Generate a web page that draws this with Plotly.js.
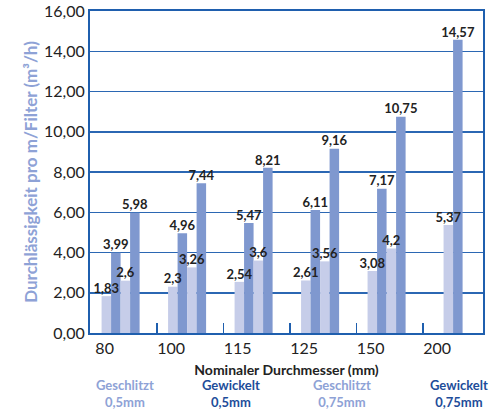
<!DOCTYPE html>
<html>
<head>
<meta charset="utf-8">
<script src="https://cdn.plot.ly/plotly-3.0.1.min.js"></script>
<style>html,body{margin:0;padding:0;background:#fff;}#chart{width:504px;height:410px;}</style>
</head>
<body>
<div id="chart"></div>
<script>
const categories = ["80", "100", "115", "125", "150", "200"];
const geschlitzt05 = [1.83, 2.3, 2.54, 2.61, 3.08, 5.37];
const gewickelt05 = [3.99, 4.96, 5.47, 6.11, 7.17, null];
const geschlitzt075 = [2.6, 3.26, 3.6, 3.56, 4.2, null];
const gewickelt075 = [5.98, 7.44, 8.21, 9.16, 10.75, 14.57];
const seriesType = ["Geschlitzt", "Gewickelt", "Geschlitzt", "Gewickelt"];
const seriesSize = ["0,5mm", "0,5mm", "0,75mm", "0,75mm"];

const series = [geschlitzt05, gewickelt05, geschlitzt075, gewickelt075];
const LIGHT = "#c6cde9", MED = "#7f98cf";
const colors = [LIGHT, MED, LIGHT, MED];
const legendColors = ["#8ea2d6", "#1e4d9a", "#8ea2d6", "#1e4d9a"];
const legendX = [0.089, 0.36, 0.642, 0.938];
const W = 0.143;
const FONT = "Lato, 'Open Sans', sans-serif";

// center the bars that exist in each category
const offsets = series.map(() => []);
categories.forEach((c, i) => {
  const present = series.map((s, k) => s[i] != null ? k : -1).filter(k => k >= 0);
  present.forEach((k, j) => { offsets[k][i] = (j - present.length / 2) * W; });
  series.forEach((s, k) => { if (s[i] == null) offsets[k][i] = 0; });
});

const xs = categories.map((c, i) => i);
const fmt = v => v == null ? "" : String(v).replace(".", ",");

const barTraces = series.map((s, k) => ({
  type: "bar",
  x: xs,
  y: s,
  width: W,
  offset: offsets[k],
  marker: { color: colors[k], line: { width: 0 } },
  hoverinfo: "skip",
  showlegend: false
}));

const textTraces = series.map((s, k) => ({
  type: "scatter",
  mode: "text",
  x: xs.map(i => i + offsets[k][i] + W / 2),
  y: s,
  text: s.map(fmt),
  textposition: "top center",
  cliponaxis: false,
  textfont: { family: FONT, size: 13, color: "#222", weight: "bold" },
  hoverinfo: "skip",
  showlegend: false
}));

const annotations = seriesType.map((t, k) => ({
  text: "<b>" + t + "<br>" + seriesSize[k] + "</b>",
  xref: "paper", yref: "paper",
  x: legendX[k], y: -0.1894,
  xanchor: "center", yanchor: "middle",
  showarrow: false,
  align: "center",
  font: { family: FONT, size: 13, color: legendColors[k] }
}));

const layout = {
  width: 504, height: 410,
  margin: { l: 90, r: 21, t: 11, b: 77 },
  paper_bgcolor: "#fff", plot_bgcolor: "#fff",
  separators: ",.",
  barmode: "overlay",
  showlegend: false,
  hovermode: false,
  font: { family: FONT, color: "#222" },
  xaxis: {
    type: "linear",
    range: [-0.46, 5.45],
    tickmode: "array",
    tickvals: xs.map(i => i - 0.24),
    ticktext: categories,
    ticks: "",
    tickfont: { family: FONT, size: 16, color: "#222" },
    showgrid: false, zeroline: false,
    showline: true, mirror: true, linecolor: "#1f5fae", linewidth: 2,
    minor: {
      tickmode: "array",
      tickvals: xs.slice(0, -1).map(i => i + 0.55),
      ticks: "inside", ticklen: 10, tickwidth: 1.5, tickcolor: "#1f5fae",
      showgrid: false
    },
    title: { text: "<b>Nominaler Durchmesser (mm)</b>", font: { family: FONT, size: 14, color: "#222" }, standoff: 9 },
    fixedrange: true
  },
  yaxis: {
    range: [0, 16],
    tickmode: "linear", tick0: 0, dtick: 2,
    tickformat: ".2f",
    ticks: "",
    tickfont: { family: FONT, size: 16, color: "#222" },
    showgrid: true, gridcolor: "#2b67b3", gridwidth: 1.5,
    zeroline: false,
    showline: true, mirror: true, linecolor: "#1f5fae", linewidth: 2,
    title: { text: "<b>Durchlässigkeit pro m/Filter (m³/h)</b>", font: { family: FONT, size: 17, color: "#8ea2d6" }, standoff: 2 },
    fixedrange: true
  },
  annotations: annotations
};

Plotly.newPlot("chart", barTraces.concat(textTraces), layout, { displayModeBar: false, staticPlot: true });
</script>
</body>
</html>
